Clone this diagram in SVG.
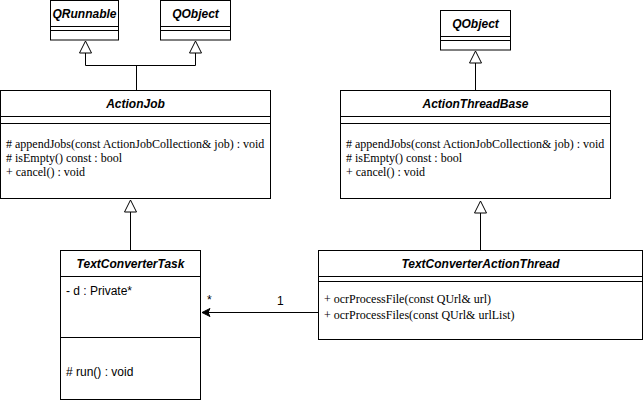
<svg xmlns="http://www.w3.org/2000/svg" width="644" height="404" viewBox="0 0 644 404">
<defs>
<style>
.box{fill:#fff;stroke:#000;stroke-width:1}
.ln{stroke:#000;stroke-width:1;fill:none}
.t{font-family:"Liberation Sans",Arial,sans-serif;font-size:12px;font-weight:bold;font-style:italic;text-anchor:middle;fill:#000}
.m{font-family:"Liberation Serif","Times New Roman",serif;font-size:12px;fill:#000}
.a{font-family:"Liberation Sans",Arial,sans-serif;font-size:12px;fill:#000}
.tri{fill:#fff;stroke:#000;stroke-width:1}
</style>
<marker id="arr" markerWidth="10" markerHeight="10" refX="9" refY="5" orient="auto" markerUnits="userSpaceOnUse">
<path d="M1,1 L9,5 L1,9 L3,5 Z" fill="#000" stroke="#000" stroke-width="1"/>
</marker>
</defs>
<g id="connectors">
<path class="ln" d="M85.5,53 V65.5 H195.5 V53"/>
<path class="ln" d="M136.5,65.5 V90"/>
<polygon class="tri" points="85.5,41 79.5,53 91.5,53"/>
<polygon class="tri" points="195.5,41 189.5,53 201.5,53"/>
<path class="ln" d="M475.5,63 V90"/>
<polygon class="tri" points="475.5,51 469.5,63 481.5,63"/>
<path class="ln" d="M130.5,212 V250"/>
<polygon class="tri" points="130.5,200 124.5,212 136.5,212"/>
<path class="ln" d="M480.5,213 V250"/>
<polygon class="tri" points="480.5,201 474.5,213 486.5,213"/>
<path class="ln" d="M318,312.5 H202" marker-end="url(#arr)"/>
<text class="a" x="207" y="304">*</text>
<text class="a" x="277" y="305">1</text>
</g>
<g id="QRunnable">
<rect class="box" x="50.5" y="0.5" width="68" height="39.5"/>
<path class="ln" d="M50.5,26.5 H118.5 M50.5,30.5 H118.5"/>
<text class="t" x="84.5" y="18">QRunnable</text>
</g>
<g id="QObject1">
<rect class="box" x="160.5" y="0.5" width="70" height="39.5"/>
<path class="ln" d="M160.5,26.5 H230.5 M160.5,30.5 H230.5"/>
<text class="t" x="195.5" y="18">QObject</text>
</g>
<g id="QObject2">
<rect class="box" x="440.5" y="10.5" width="70" height="39.5"/>
<path class="ln" d="M440.5,36.5 H510.5 M440.5,40.5 H510.5"/>
<text class="t" x="475.5" y="28">QObject</text>
</g>
<g id="ActionJob">
<rect class="box" x="0.5" y="90.5" width="270" height="108"/>
<path class="ln" d="M0.5,116.5 H270.5 M0.5,123.5 H270.5"/>
<text class="t" x="135.5" y="108">ActionJob</text>
<text class="m" x="6" y="148">#&#160;appendJobs(const ActionJobCollection&amp; job) : void</text>
<text class="m" x="6" y="162">#&#160;isEmpty() const : bool</text>
<text class="m" x="6" y="176">+ cancel() : void</text>
</g>
<g id="ActionThreadBase">
<rect class="box" x="340.5" y="90.5" width="270" height="108"/>
<path class="ln" d="M340.5,116.5 H610.5 M340.5,123.5 H610.5"/>
<text class="t" x="475.5" y="108">ActionThreadBase</text>
<text class="m" x="346" y="148">#&#160;appendJobs(const ActionJobCollection&amp; job) : void</text>
<text class="m" x="346" y="162">#&#160;isEmpty() const : bool</text>
<text class="m" x="346" y="176">+ cancel() : void</text>
</g>
<g id="TextConverterTask">
<rect class="box" x="60.5" y="250.5" width="140" height="149"/>
<path class="ln" d="M60.5,276.5 H200.5 M60.5,337.5 H200.5"/>
<text class="t" x="130.5" y="268">TextConverterTask</text>
<text class="a" x="66" y="295">- d : Private*</text>
<text class="a" x="66" y="376">#&#160;run() : void</text>
</g>
<g id="TextConverterActionThread">
<rect class="box" x="318.5" y="250.5" width="324" height="89"/>
<path class="ln" d="M318.5,276.5 H642.5 M318.5,281.5 H642.5"/>
<text class="t" x="480.5" y="268">TextConverterActionThread</text>
<text class="m" x="324" y="303">+ ocrProcessFile(const QUrl&amp; url)</text>
<text class="m" x="324" y="319">+ ocrProcessFiles(const QUrl&amp; urlList)</text>
</g>
</svg>
